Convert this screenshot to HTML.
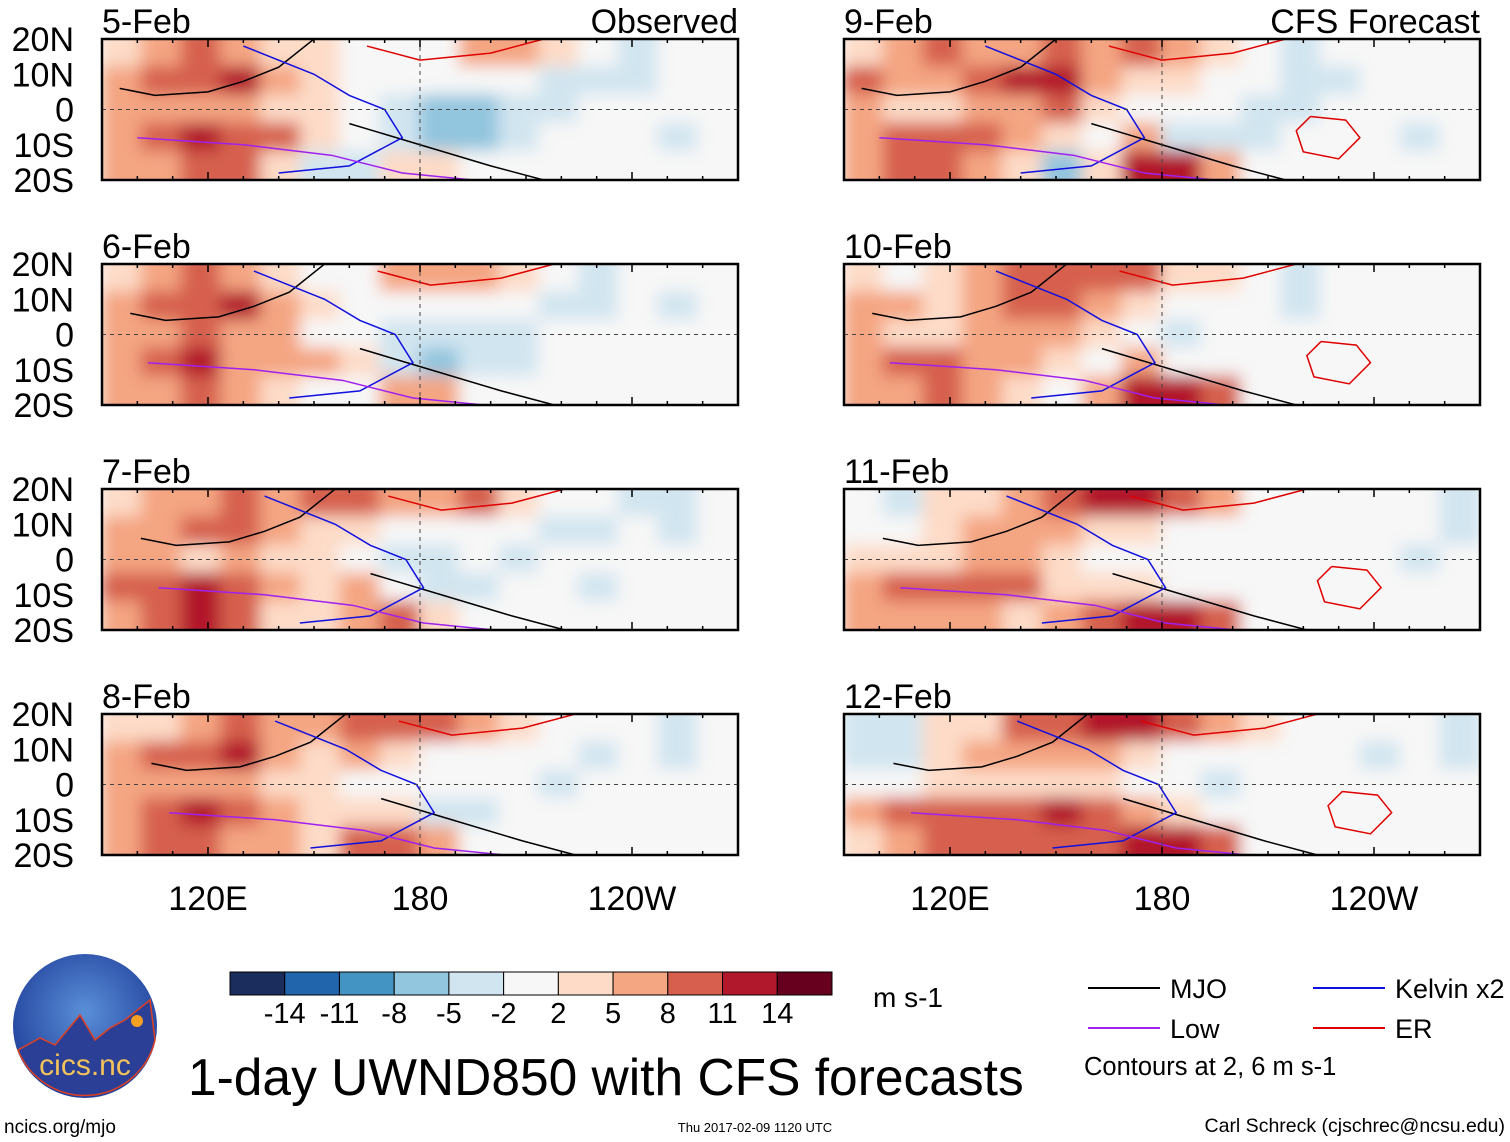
<!DOCTYPE html>
<html><head><meta charset="utf-8"><style>
html,body{margin:0;padding:0;background:#fff}
svg{display:block;font-family:"Liberation Sans",sans-serif}
</style></head><body>
<svg id="root" width="1510" height="1142" viewBox="0 0 1510 1142" xmlns="http://www.w3.org/2000/svg">
<defs>
<filter id="bl" x="-5%" y="-10%" width="110%" height="120%"><feGaussianBlur stdDeviation="8"/></filter>
<radialGradient id="lg" cx="50%" cy="40%" r="60%"><stop offset="0" stop-color="#5a8fd8"/><stop offset="1" stop-color="#1f3f9a"/></radialGradient>
</defs>
<g id="panels"></g>
<g id="bottom"></g>
</svg>
<script>
// ---- data ----
const panelTitles = ["5-Feb","6-Feb","7-Feb","8-Feb","9-Feb","10-Feb","11-Feb","12-Feb"];
const levels = [-14,-11,-8,-5,-2,2,5,8,11,14];
const palette = ["#1b2d5c","#2166ac","#4393c3","#92c5de","#d1e5f0","#f7f7f7","#fddbc7","#f4a582","#d6604d","#b2182b","#67001f"];
const latRows = [16,8,0,-8,-16];
const yTickLabels = ["20N","10N","0","10S","20S"];
const yTickLats = [20,10,0,-10,-20];
const xTickLabels = ["120E","180","120W"];
const xTickLons = [120,180,240];
const field0 = [[3,5,9,5,3,2,0,1,0,6,7,4,-2,-3,-1,0],[6,8,10,12,6,3,0,-1,-2,-2,-2,-3,-4,-3,-2,-1],[5,6,7,6,3,2,-1,-4,-6,-6,-5,-3,-2,-2,-2,-1],[7,9,11,10,8,4,1,-4,-6,-7,-4,-2,-1,-2,-3,-2],[6,7,8,9,4,-3,-4,4,3,-1,-2,0,0,-1,-2,-1]];
const field1 = [[2,6,9,7,3,1,0,5,7,6,3,-2,-3,-2,-2,0],[6,10,8,11,6,3,0,-1,-2,-2,-2,-3,-3,-2,-4,-2],[5,7,8,6,5,1,-2,-4,-5,-5,-4,-2,-2,-1,-2,-1],[7,10,11,7,5,6,2,-3,-6,-5,-4,-2,-2,-1,-2,-2],[5,7,8,6,3,-2,-1,5,6,-1,-2,-1,-1,-2,-2,-1]];
const field2 = [[3,5,6,8,6,9,8,5,7,8,3,-1,-2,-3,-3,-1],[6,7,8,10,6,4,3,0,-1,-1,-1,-3,-3,-2,-4,-2],[5,5,4,6,3,3,0,-3,-4,-2,-3,-2,-1,-1,-2,-2],[8,10,11,8,5,4,5,0,-3,-3,-2,-2,-3,-2,-2,-2],[6,9,12,8,4,2,6,8,3,-1,-2,-2,-2,-2,-2,-1]];
const field3 = [[3,4,6,8,6,5,8,9,8,7,3,-1,-2,-2,-3,-2],[6,8,9,11,7,4,5,3,-2,-1,-2,-2,-3,-2,-3,-1],[5,5,6,7,4,3,0,-2,-2,-1,-2,-3,-1,-1,-2,-2],[7,10,11,8,6,4,4,2,-3,-4,-2,-2,-2,-2,-2,-2],[6,8,8,6,5,4,8,10,6,-1,-2,-2,-2,-2,-2,-1]];
const field4 = [[4,6,8,5,7,10,6,8,7,3,-2,-3,-2,-2,-1,-1],[8,5,6,8,11,12,7,4,3,-1,-1,-3,-3,-2,-2,-1],[5,4,3,6,7,8,4,1,-2,-2,-3,-3,-2,-2,-2,-2],[7,9,10,8,5,3,-2,5,-3,-3,-3,-2,-1,-2,-3,-2],[6,9,8,6,2,-6,2,11,13,7,-1,-2,-1,-1,-2,-1]];
const field5 = [[2,-2,4,6,8,10,9,8,4,3,-2,-3,-2,-2,-2,-1],[7,5,4,6,9,9,7,3,1,-2,-2,-3,-2,-2,-2,-1],[6,4,3,5,6,6,3,0,-3,-2,-2,-2,-2,-2,-2,-2],[7,9,8,7,6,3,1,6,-1,-2,-2,-2,-1,-2,-2,-2],[5,7,8,5,2,-2,5,11,13,8,-1,-1,-1,-2,-2,-1]];
const field6 = [[-2,-3,2,4,6,9,11,11,8,5,1,-2,-2,-2,-2,-3],[-2,-2,3,6,7,6,4,2,-1,-2,-2,-2,-2,-2,-2,-3],[3,2,3,5,5,4,1,-2,-2,-2,-2,-2,-2,-2,-3,-2],[6,8,9,10,8,4,2,4,-1,-2,-2,-2,-2,-2,-2,-2],[5,7,6,5,4,6,8,11,13,8,-1,-1,-1,-2,-2,-1]];
const field7 = [[-4,-5,2,4,8,10,11,11,9,6,3,-2,-2,-2,-2,-3],[-4,-3,2,5,7,6,5,3,0,-2,-2,-2,-2,-3,-2,-3],[-2,-2,3,4,4,3,2,0,-2,-3,-2,-2,-2,-2,-2,-2],[6,8,9,9,10,12,8,6,2,-2,-2,-2,-2,-2,-2,-2],[4,7,8,8,9,10,9,11,12,9,-1,-1,-1,-2,-2,-1]];
const fields = [field0,field1,field2,field3,field4,field5,field6,field7];
// contour lines (lon, lat pairs)
const mjoLine = [[150,20],[140,12],[130,8],[120,5],[105,4],[95,6]];
const mjoLine2 = [[160,-4],[180,-10],[200,-16],[215,-20]];
const kelvinLine = [[130,18],[150,10],[160,4],[170,0],[175,-8],[160,-16],[140,-18]];
const lowLine = [[100,-8],[130,-10],[155,-13],[175,-18],[195,-20]];
const erLoop = [[222,-2],[232,-3],[236,-8],[230,-14],[220,-12],[218,-6],[222,-2]];
const erTop = [[165,18],[180,14],[200,16],[215,20]];
const colorbarLabels = ["-14","-11","-8","-5","-2","2","5","8","11","14"];

// ---- helpers ----
const NS="http://www.w3.org/2000/svg";
function mk(tag,attrs,parent){const e=document.createElementNS(NS,tag);for(const k in attrs)e.setAttribute(k,attrs[k]);if(parent)parent.appendChild(e);return e;}
function bin(v){let i=0;while(i<levels.length&&v>=levels[i])i++;return i;}
const colX=[102,844], panelW=636, rowY=[39,264,489,714], panelH=141;
const panelsG=document.getElementById('panels');

fields.forEach((f,p)=>{
  const x0=colX[p<4?0:1], y0=rowY[p%4];
  const xs=lon=>x0+(lon-90)/180*panelW;
  const ys=lat=>y0+(20-lat)/40*panelH;
  const g=mk('g',{},panelsG);
  
  
  const cid='clip'+p;
  const cp=mk('clipPath',{id:cid},g); mk('rect',{x:x0,y:y0,width:panelW,height:panelH},cp);
  const hm=mk('g',{'clip-path':'url(#'+cid+')'},g);
  mk('rect',{x:x0,y:y0,width:panelW,height:panelH,fill:'#f7f7f7'},hm);
  const bg=mk('g',{filter:'url(#bl)'},hm);
  const ncol=f[0].length, dl=180/ncol;
  f.forEach((row,r)=>row.forEach((v,c)=>{
    const cell=mk('rect',{x:xs(90+c*dl)-1,y:ys(latRows[r]+4)-(r==0?12:0)-1,width:panelW/ncol+2,height:panelH/5+(r==0||r==4?14:0)+2,fill:palette[bin(v)]},bg);
    
    
  }));
  const lines=[[mjoLine,'#000'],[mjoLine2,'#000'],[kelvinLine,'#1010e0'],[lowLine,'#a020f0'],[erTop,'#e00000']];
  if(p>=4) lines.push([erLoop,'#e00000']);
  lines.forEach(([pts,col])=>{
    const shift=(p%4)*3;
    const pl=mk('polyline',{points:pts.map(q=>xs(q[0]+shift)+','+ys(q[1])).join(' '),fill:'none',stroke:col,'stroke-width':1.5},hm);
    
    
  });
  mk('line',{x1:x0,x2:x0+panelW,y1:ys(0),y2:ys(0),stroke:'#444','stroke-dasharray':'4,4','stroke-width':1},hm);
  mk('line',{x1:xs(180),x2:xs(180),y1:y0,y2:y0+panelH,stroke:'#444','stroke-dasharray':'4,4','stroke-width':1},hm);
  const fr=mk('rect',{x:x0,y:y0,width:panelW,height:panelH,fill:'none',stroke:'#000','stroke-width':2.5},g);
  
  
  for(let lon=90;lon<=270;lon+=10){const L=(lon%60==0)?8:4;mk('line',{x1:xs(lon),x2:xs(lon),y1:y0,y2:y0+L,stroke:'#000','stroke-width':1.5},g);mk('line',{x1:xs(lon),x2:xs(lon),y1:y0+panelH,y2:y0+panelH-L,stroke:'#000','stroke-width':1.5},g);}
  const t=mk('text',{x:x0,y:y0-6,'font-size':34},g); t.textContent=panelTitles[p];
  
  
  if(p==0||p==4){const s=mk('text',{x:x0+panelW,y:y0-6,'font-size':34,'text-anchor':'end'},g);s.textContent=p==0?'Observed':'CFS Forecast';
    
    }
  if(p<4){yTickLabels.forEach((lb,i)=>{const tt=mk('text',{x:74,y:ys(yTickLats[i])+12,'font-size':34,'text-anchor':'end'},g);tt.textContent=lb;
    
    });}
  if(p%4==3){xTickLabels.forEach((lb,i)=>{const tt=mk('text',{x:xs(xTickLons[i]),y:910,'font-size':34,'text-anchor':'middle'},g);tt.textContent=lb;
    
    });}
});

// ---- bottom ----
const B=document.getElementById('bottom');
const cb=mk('g',{},B);


const cbx=230,cbw=602/palette.length;
palette.forEach((c,i)=>mk('rect',{x:cbx+i*cbw,y:972,width:cbw,height:23,fill:c,stroke:'#000','stroke-width':1},cb));
colorbarLabels.forEach((lb,i)=>{const t=mk('text',{x:cbx+(i+1)*cbw,y:1023,'font-size':29,'text-anchor':'middle'},cb);t.textContent=lb;});
function txt(x,y,s,size,name,anchor){const t=mk('text',{x:x,y:y,'font-size':size,'text-anchor':anchor||'start'},B);t.textContent=s;return t;}
txt(873,1007,'m s-1',28,'colorbar-units');
txt(188,1095,'1-day UWND850 with CFS forecasts',51.5,'chart-title');
txt(4,1133,'ncics.org/mjo',19,'site-url');
txt(755,1132,'Thu 2017-02-09 1120 UTC',13,'timestamp','middle');
txt(1505,1132,'Carl Schreck (cjschrec@ncsu.edu)',19.5,'author-credit','end');
const leg=[[1088,988,'#000','MJO'],[1313,988,'#1010e0','Kelvin x2'],[1088,1028,'#a020f0','Low'],[1313,1028,'#e00000','ER']];
leg.forEach(([x,y,c,s])=>{const l=mk('line',{x1:x,x2:x+72,y1:y,y2:y,stroke:c,'stroke-width':2},B);txt(x+82,y+10,s,27,'legend-entry');});
txt(1084,1075,'Contours at 2, 6 m s-1',25.5,'contour-note');
const lg=mk('g',{},B);


mk('circle',{cx:85,cy:1026,r:72,fill:'url(#lg)'},lg);
mk('path',{d:'M18,1050 L40,1038 L55,1045 L80,1015 L95,1040 L110,1028 L125,1020 L150,1000 L155,1040 A72,72 0 0 1 18,1050 Z',fill:'#2a3f95',stroke:'#e04020','stroke-width':1.5},lg);
mk('circle',{cx:137,cy:1021,r:6,fill:'#f5a020'},lg);
const lt=mk('text',{x:85,y:1075,'font-size':30,'text-anchor':'middle',fill:'#f3c25a'},lg);lt.textContent='cics.nc';
</script>
</body></html>
